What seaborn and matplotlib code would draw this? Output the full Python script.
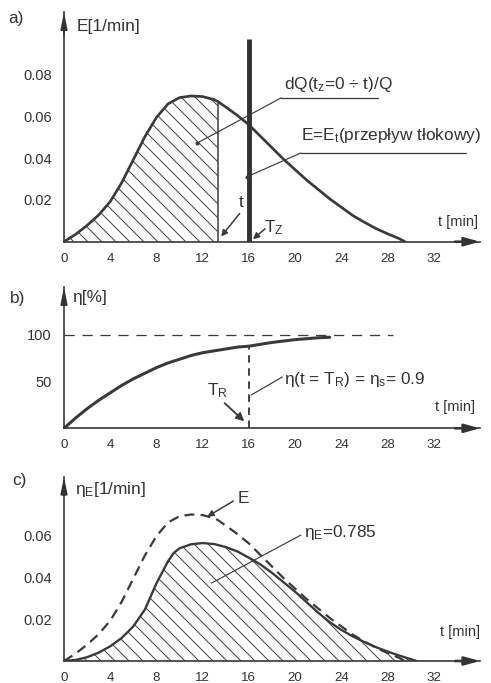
import matplotlib
matplotlib.use("Agg")
import matplotlib.pyplot as plt
from matplotlib.patches import FancyArrowPatch
import seaborn as sns

# ---------------- data ----------------
ticks_t = [0, 4, 8, 12, 16, 20, 24, 28, 32]
ticks_E = [0.02, 0.04, 0.06, 0.08]
ticks_eta = [50, 100]
ticks_etaE = [0.02, 0.04, 0.06]

t_E = [0, 1, 2, 3, 4, 5, 6, 7, 8, 9, 10, 11, 12, 13, 13.3, 14, 15, 16, 17, 18,
       19, 20, 21, 22, 23, 24, 25, 26, 27, 28, 29, 29.5]
E = [0, 0.0035, 0.0078, 0.0128, 0.0192, 0.0283, 0.0393, 0.0503, 0.0595, 0.0660,
     0.0690, 0.0698, 0.0695, 0.0680, 0.0672, 0.0645, 0.0605, 0.0560, 0.0505,
     0.0450, 0.0395, 0.0345, 0.0295, 0.0250, 0.0205, 0.0165, 0.0125, 0.0093,
     0.0063, 0.0038, 0.0015, 0.0]

t_cut = 13.3          # "t" in panel a
T_z = 16              # T_z bar in panel a
bar_top = 0.097

t_eta = [0, 1, 2, 3, 4, 5, 6, 7, 8, 9, 10, 11, 12, 13, 14, 15, 16, 17, 18, 19,
         20, 21, 22, 23]
eta = [0, 11, 21, 30, 38, 46, 53, 59, 65, 70, 74, 78, 81, 83, 85, 87, 88, 90,
       92, 93.5, 95, 96, 97, 97.5]
T_R = 16
eta_TR = 88
eta_max = 100
eta_line_end = 28.5

t_etaE = [0, 1, 2, 3, 4, 5, 6, 7, 8, 9, 9.5, 10, 11, 12, 13, 14, 15, 16, 17,
          18, 19, 20, 21, 22, 23, 24, 25, 26, 27, 28, 29, 30, 30.5]
etaE = [0, 0.0005, 0.0018, 0.004, 0.007, 0.011, 0.0165, 0.0245, 0.037, 0.0475,
        0.0515, 0.0537, 0.0556, 0.0562, 0.0557, 0.0543, 0.0522, 0.0492, 0.046,
        0.042, 0.0375, 0.033, 0.028, 0.023, 0.0185, 0.0148, 0.0117, 0.009,
        0.0066, 0.0045, 0.0026, 0.0009, 0.0]

# ---------------- style ----------------
sns.set_theme(style="white")
plt.rcParams["font.family"] = ["Liberation Sans", "DejaVu Sans"]
plt.rcParams["mathtext.fontset"] = "custom"
plt.rcParams["mathtext.rm"] = "Liberation Sans"
plt.rcParams["mathtext.it"] = "Liberation Sans:italic"
plt.rcParams["mathtext.bf"] = "Liberation Sans:bold"
plt.rcParams["hatch.linewidth"] = 0.9

DARK = "#333333"
LINE = "#3a3a3a"
HATCH = "#4a4a4a"
DPI = 84
W, H = 492, 683
FS_TICKY = 12.5
FS_TICKX = 11.5
FS_TXT = 14.8
FS_UNIT = 12.5

fig = plt.figure(figsize=(W / DPI, H / DPI), dpi=DPI)
fig.patch.set_facecolor("white")


def px_ax(l, t, r, b):
    return fig.add_axes([l / W, 1 - b / H, (r - l) / W, (b - t) / H])


axA = px_ax(64, 12, 480, 241.7)
axB = px_ax(64, 287, 480, 428.3)
axC = px_ax(64, 476.7, 480, 661)


def style_axis(ax, ylim, yticks, yfmt):
    ax.set_xlim(0, 36)
    ax.set_ylim(*ylim)
    ax.set_facecolor("none")
    for s in ["top", "right"]:
        ax.spines[s].set_visible(False)
    for s in ["left", "bottom"]:
        ax.spines[s].set_color(DARK)
        ax.spines[s].set_linewidth(1.4)
    ax.set_xticks(ticks_t)
    ax.set_xticklabels([str(v) for v in ticks_t])
    ax.set_yticks(yticks)
    ax.set_yticklabels([yfmt.format(v) for v in yticks])
    ax.tick_params(axis="x", direction="inout", length=4, width=1.6,
                   color=DARK, labelsize=FS_TICKX, labelcolor=DARK, pad=7.5)
    ax.tick_params(axis="y", direction="inout", length=5, width=1.6,
                   color=DARK, labelsize=FS_TICKY, labelcolor=DARK, pad=8)
    ax.set_xlabel("")
    ax.set_ylabel("")
    ax.annotate("", xy=(1.0, 0), xytext=(0.94, 0), xycoords="axes fraction",
                arrowprops=dict(arrowstyle="-|>,head_length=0.9,head_width=0.25",
                                color=DARK, lw=2.2, shrinkA=0, shrinkB=0),
                annotation_clip=False)
    ax.annotate("", xy=(0, 1.0), xytext=(0, 0.9), xycoords="axes fraction",
                arrowprops=dict(arrowstyle="-|>,head_length=1.0,head_width=0.2",
                                color=DARK, lw=1.4, shrinkA=0, shrinkB=0),
                annotation_clip=False)


def leader(ax, x0, y0, x1, y1, dot=True):
    ax.plot([x0, x1], [y0, y1], color=LINE, lw=1.0, clip_on=False)
    if dot:
        ax.plot([x1], [y1], marker="o", ms=2.5, color=LINE, clip_on=False)


def arrow(ax, xt, yt, xh, yh, scale=11, lw=1.3):
    p = FancyArrowPatch((xt, yt), (xh, yh), arrowstyle="-|>",
                        mutation_scale=scale, color=LINE, lw=lw,
                        shrinkA=0, shrinkB=0, zorder=5, clip_on=False)
    ax.add_patch(p)


# ---------------- panel a ----------------
style_axis(axA, (0, 0.11), ticks_E, "{:.2f}")
tA = [v for v in t_E if v <= t_cut]
EA = E[:len(tA)]
axA.fill_between(tA, EA, 0, facecolor="none", edgecolor=HATCH,
                 hatch="\\\\", linewidth=0)
sns.lineplot(x=t_E, y=E, ax=axA, color=LINE, lw=2.3, sort=False)
axA.vlines(t_cut, 0, EA[-1], color=LINE, lw=1.3)
axA.vlines(T_z, 0, bar_top, color=DARK, lw=4.2)

axA.text(1.1, 0.103, "E[1/min]", fontsize=FS_TXT, color=DARK, va="center")
axA.text(19.0, 0.0705, r"dQ(t$_{\mathrm{z}}$=0 ÷ t)/Q", fontsize=FS_TXT,
         color=DARK, va="bottom")
axA.plot([18.8, 27.2], [0.0689, 0.0689], color=LINE, lw=1.1)
leader(axA, 18.8, 0.0689, 11.55, 0.0473)
axA.text(20.5, 0.0462, r"E=E$_{\mathrm{t}}$(przepływ tłokowy)", fontsize=FS_TXT,
         color=DARK, va="bottom", clip_on=False)
axA.plot([20.5, 34.8], [0.0425, 0.0425], color=LINE, lw=1.1)
leader(axA, 20.5, 0.0425, 15.8, 0.031)
axA.text(15.3, 0.0188, "t", fontsize=FS_TXT, color=DARK, ha="center",
         va="center")
arrow(axA, 15.2, 0.0135, 13.6, 0.0025)
axA.text(17.3, 0.0068, r"T$_{\mathrm{Z}}$", fontsize=FS_TXT, color=DARK,
         va="center")
arrow(axA, 17.4, 0.0062, 16.35, 0.0012)
axA.text(34.1, 0.0094, "t [min]", fontsize=FS_UNIT, color=DARK, ha="center",
         va="center")

# ---------------- panel b ----------------
style_axis(axB, (0, 151.4), ticks_eta, "{:d}")
axB.plot([0, eta_line_end], [eta_max, eta_max], color=LINE, lw=1.1,
         ls=(0, (8, 6)))
axB.vlines(T_R, 0, eta_TR, color=LINE, lw=1.6, linestyles=[(0, (4, 3))])
sns.lineplot(x=t_eta, y=eta, ax=axB, color=LINE, lw=2.6, sort=False)
axB.text(0.7, 139.7, "η[%]", fontsize=FS_TXT, color=DARK, va="center")
axB.text(19.05, 52.8, r"η(t = T$_{\mathrm{R}}$) = η$_{\mathrm{s}}$= 0.9",
         fontsize=FS_TXT, color=DARK, va="center")
leader(axB, 16.2, 35.7, 18.9, 55, dot=False)
axB.text(13.3, 40, r"T$_{\mathrm{R}}$", fontsize=FS_TXT, color=DARK,
         ha="center", va="center")
arrow(axB, 13.9, 27, 15.6, 7.5, scale=14, lw=1.6)
axB.text(33.8, 22.8, "t [min]", fontsize=FS_UNIT, color=DARK, ha="center",
         va="center")

# ---------------- panel c ----------------
style_axis(axC, (0, 0.0878), ticks_etaE, "{:.2f}")
axC.fill_between(t_etaE, etaE, 0, facecolor="none", edgecolor=HATCH,
                 hatch="\\\\", linewidth=0)
sns.lineplot(x=t_E, y=E, ax=axC, color=LINE, lw=1.9, sort=False)
axC.lines[-1].set_linestyle((0, (4.5, 2.8)))
sns.lineplot(x=t_etaE, y=etaE, ax=axC, color=LINE, lw=2.0, sort=False)
axC.text(0.95, 0.0819, r"η$_{\mathrm{E}}$[1/min]", fontsize=FS_TXT,
         color=DARK, va="center")
axC.text(15.0, 0.0776, "E", fontsize=FS_TXT, color=DARK, va="center")
arrow(axC, 14.65, 0.0762, 12.4, 0.0688)
axC.text(20.8, 0.0612, r"η$_{\mathrm{E}}$=0.785", fontsize=FS_TXT,
         color=DARK, va="center")
leader(axC, 20.5, 0.0600, 12.76, 0.0371, dot=False)
axC.text(34.3, 0.0138, "t [min]", fontsize=FS_UNIT, color=DARK, ha="center",
         va="center")

# panel letters
fig.text(8 / W, 1 - 18 / H, "a)", fontsize=FS_TXT, color=DARK, va="center")
fig.text(10 / W, 1 - 298 / H, "b)", fontsize=FS_TXT, color=DARK, va="center")
fig.text(12 / W, 1 - 481 / H, "c)", fontsize=FS_TXT, color=DARK, va="center")

fig.savefig("out.png", dpi=DPI, facecolor="white")
